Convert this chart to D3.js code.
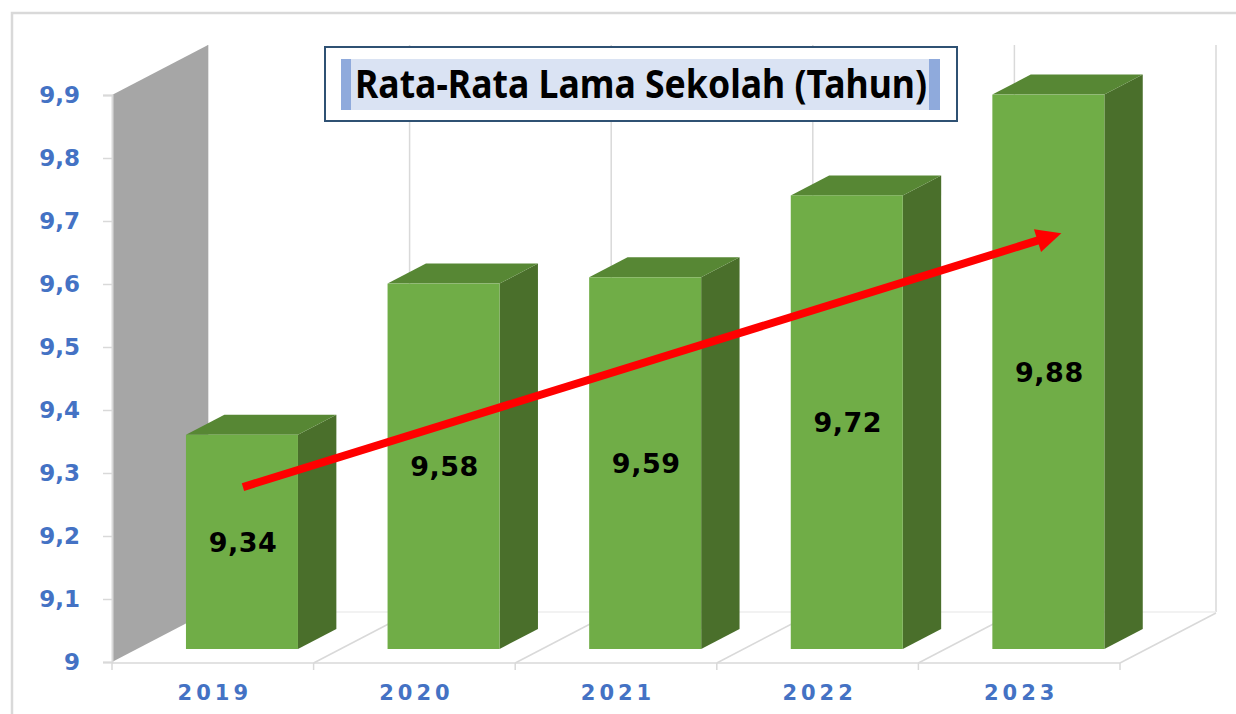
<!DOCTYPE html>
<html>
<head>
<meta charset="utf-8">
<script src="https://cdn.jsdelivr.net/npm/d3@7"></script>
<style>
  body { margin: 0; background: #fff; }
  svg { display: block; }
</style>
</head>
<body>
<div id="chart"></div>
<script>
const years = ["2019", "2020", "2021", "2022", "2023"];
const values = [9.34, 9.58, 9.59, 9.72, 9.88];
const yTicks = [9, 9.1, 9.2, 9.3, 9.4, 9.5, 9.6, 9.7, 9.8, 9.9];
const trendValues = [9.257, 9.66]; // red arrow: start / tip
const title = "Rata-Rata Lama Sekolah (Tahun)";

const width = 1236, height = 714;

// 3d-ish geometry
const DX = 96, DY = -50;          // depth vector of the floor
const barDepth0 = 0.26, barDepth1 = 0.66;

const svg = d3.select("#chart").append("svg")
  .attr("width", width).attr("height", height);

// outer frame
svg.append("rect")
  .attr("x", 12).attr("y", 13).attr("width", 1250).attr("height", 730)
  .attr("fill", "none").attr("stroke", "#d9d9d9").attr("stroke-width", 2.5);

const x = d3.scaleBand().domain(years).range([112, 1120]);
const y = d3.scaleLinear().domain([9, 9.9]).range([662, 95]);
const bw = x.step();
const floorY = y(9);

const grid = svg.append("g").attr("stroke", "#d9d9d9").attr("stroke-width", 1.5).attr("fill", "none");

// back wall vertical lines
const bounds = d3.range(years.length + 1).map(i => x.range()[0] + i * bw);
grid.selectAll("line.back")
  .data(bounds)
  .join("line")
  .attr("class", "back")
  .attr("x1", d => d + DX).attr("x2", d => d + DX)
  .attr("y1", floorY + DY).attr("y2", y(9.9) + DY);

// back floor line
grid.append("line")
  .attr("x1", bounds[0] + DX).attr("x2", bounds[bounds.length - 1] + DX)
  .attr("y1", floorY + DY).attr("y2", floorY + DY)
  .attr("stroke", "#eeeeee");

// floor separators
grid.selectAll("line.sep")
  .data(bounds.slice(1))
  .join("line")
  .attr("class", "sep")
  .attr("x1", d => d).attr("y1", floorY + 1)
  .attr("x2", d => d + DX).attr("y2", floorY + 1 + DY);

// front floor line + ticks
grid.append("line")
  .attr("x1", bounds[0]).attr("x2", bounds[bounds.length - 1])
  .attr("y1", floorY + 1).attr("y2", floorY + 1);
grid.selectAll("line.xtick")
  .data(bounds)
  .join("line")
  .attr("class", "xtick")
  .attr("x1", d => d).attr("x2", d => d)
  .attr("y1", floorY + 1).attr("y2", floorY + 8);

// grey side wall
svg.append("path")
  .attr("fill", "#a6a6a6")
  .attr("d", d3.line()([
    [bounds[0], y(9.9)],
    [bounds[0] + DX, y(9.9) + DY],
    [bounds[0] + DX, floorY + DY],
    [bounds[0], floorY]
  ]) + "Z");

// y axis
const fmt = d3.formatLocale({ decimal: ",", thousands: ".", grouping: [3], currency: ["", ""] }).format(".1~f");
const yAxis = svg.append("g")
  .attr("transform", `translate(${bounds[0]},0)`)
  .call(d3.axisLeft(y).tickValues(yTicks).tickFormat(fmt).tickSize(9).tickPadding(23));
yAxis.select(".domain").attr("stroke", "#d9d9d9").attr("stroke-width", 2);
yAxis.selectAll(".tick line").attr("stroke", "#d9d9d9").attr("stroke-width", 1.5);
yAxis.selectAll(".tick text")
  .attr("fill", "#4472c4")
  .attr("font-family", "DejaVu Sans, Verdana, sans-serif")
  .attr("font-weight", "bold")
  .attr("font-size", 23);

// x axis labels
const xAxis = svg.append("g")
  .attr("transform", `translate(0,${floorY})`)
  .call(d3.axisBottom(x).tickSize(0).tickPadding(23));
xAxis.select(".domain").remove();
xAxis.selectAll(".tick text")
  .attr("fill", "#4472c4")
  .attr("font-family", "DejaVu Sans, Verdana, sans-serif")
  .attr("font-weight", "bold")
  .attr("font-size", 21)
  .attr("letter-spacing", 4)
  .attr("dx", 2);

// bars
const sx = DX * barDepth0, sy = DY * barDepth0;
const ddx = DX * (barDepth1 - barDepth0), ddy = DY * (barDepth1 - barDepth0);
const barW = 112, barOff = 49;
const data = years.map((yr, i) => ({ year: yr, value: values[i] }));
const valFmt = v => d3.format(".2f")(v).replace(".", ",");

const bar = svg.append("g").selectAll("g.bar")
  .data(data)
  .join("g")
  .attr("class", "bar");

const fx0 = d => x(d.year) + barOff + sx;
const fyTop = d => y(d.value) + sy;
const fyBot = floorY + sy;

bar.append("path") // side
  .attr("fill", "#4a6f2b")
  .attr("d", d => d3.line()([
    [fx0(d) + barW, fyTop(d)],
    [fx0(d) + barW + ddx, fyTop(d) + ddy],
    [fx0(d) + barW + ddx, fyBot + ddy],
    [fx0(d) + barW, fyBot]
  ]) + "Z");

bar.append("path") // top
  .attr("fill", "#578734")
  .attr("d", d => d3.line()([
    [fx0(d), fyTop(d)],
    [fx0(d) + ddx, fyTop(d) + ddy],
    [fx0(d) + barW + ddx, fyTop(d) + ddy],
    [fx0(d) + barW, fyTop(d)]
  ]) + "Z");

bar.append("rect") // front
  .attr("fill", "#70ad47")
  .attr("x", fx0)
  .attr("y", fyTop)
  .attr("width", barW)
  .attr("height", d => fyBot - fyTop(d));

bar.append("text")
  .attr("x", d => fx0(d) + barW / 2 + 1)
  .attr("y", d => (fyTop(d) + fyBot) / 2)
  .attr("dy", "0.36em")
  .attr("text-anchor", "middle")
  .attr("font-family", "DejaVu Sans, Verdana, sans-serif")
  .attr("font-weight", "bold")
  .attr("font-size", 27)
  .attr("letter-spacing", 0.5)
  .attr("fill", "#000")
  .text(d => valFmt(d.value));

// trend arrow
const first = data[0], last = data[data.length - 1];
const ax0 = fx0(first) + barW / 2 + 1, ay0 = y(trendValues[0]) + sy;
const ax1 = fx0(last) + barW / 2 + 13, ay1 = y(trendValues[1]) + sy;
const ang = Math.atan2(ay1 - ay0, ax1 - ax0);
const headLen = 25, headHalf = 12;
const bx = ax1 - headLen * Math.cos(ang), by = ay1 - headLen * Math.sin(ang);
svg.append("line")
  .attr("x1", ax0).attr("y1", ay0)
  .attr("x2", bx + 4 * Math.cos(ang)).attr("y2", by + 4 * Math.sin(ang))
  .attr("stroke", "#ff0000").attr("stroke-width", 8);
svg.append("path")
  .attr("fill", "#ff0000")
  .attr("d", d3.line()([
    [ax1, ay1],
    [bx - headHalf * Math.sin(ang), by + headHalf * Math.cos(ang)],
    [bx + headHalf * Math.sin(ang), by - headHalf * Math.cos(ang)]
  ]) + "Z");

// title box
const tb = svg.append("g");
tb.append("rect")
  .attr("x", 325).attr("y", 47).attr("width", 632).attr("height", 74)
  .attr("fill", "#fff").attr("stroke", "#2f5173").attr("stroke-width", 2);
tb.append("rect")
  .attr("x", 341).attr("y", 59).attr("width", 599).attr("height", 51)
  .attr("fill", "#dae3f3");
tb.append("rect").attr("x", 341).attr("y", 59).attr("width", 10).attr("height", 51).attr("fill", "#8faadc");
tb.append("rect").attr("x", 929).attr("y", 59).attr("width", 11).attr("height", 51).attr("fill", "#8faadc");
tb.append("text")
  .attr("x", 355).attr("y", 98)
  .attr("font-family", "Noto Sans, Open Sans, sans-serif")
  .attr("font-weight", "bold")
  .attr("font-size", 40)
  .attr("textLength", 572)
  .attr("lengthAdjust", "spacingAndGlyphs")
  .attr("fill", "#000")
  .text(title);
</script>
</body>
</html>
